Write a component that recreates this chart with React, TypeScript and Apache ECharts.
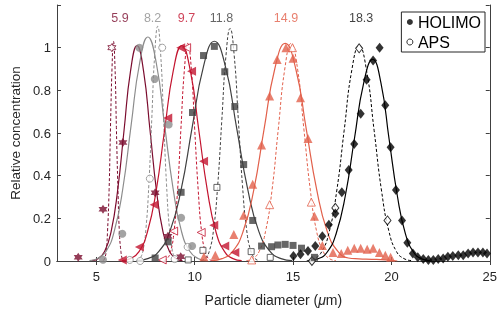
import React, { useEffect, useRef } from "react";
import * as echarts from "echarts";

// ---------- data ----------
const xTicks = [5, 10, 15, 20, 25];
const peakLabels = ["5.9", "8.2", "9.7", "11.8", "14.9", "18.3"];
const peakLabelX = [6.2, 7.86, 9.58, 11.36, 14.64, 18.46];
const peakLabelY = 1.14;

// fitted curves
const fitHolimoMx = [4.76, 5.09, 5.42, 5.75, 6.08, 6.41, 6.74, 7.07, 7.4, 7.73, 8.06, 8.39, 8.72, 9.05, 9.38];
const fitHolimoMy = [0.002, 0.011, 0.044, 0.137, 0.328, 0.613, 0.891, 1.01, 0.891, 0.613, 0.328, 0.137, 0.044, 0.011, 0.002];
const fitApsMx = [5.35, 5.42, 5.5, 5.57, 5.65, 5.72, 5.8, 5.87, 5.95, 6.02, 6.1, 6.17, 6.25, 6.32, 6.4];
const fitApsMy = [0.002, 0.011, 0.045, 0.139, 0.334, 0.625, 0.909, 1.03, 0.909, 0.625, 0.334, 0.139, 0.045, 0.011, 0.002];

const fitHolimoGx = [4.65, 5.07, 5.5, 5.92, 6.35, 6.77, 7.2, 7.62, 8.05, 8.47, 8.9, 9.32, 9.75, 10.17, 10.6];
const fitHolimoGy = [0.002, 0.012, 0.046, 0.142, 0.341, 0.637, 0.927, 1.05, 0.927, 0.637, 0.341, 0.142, 0.046, 0.012, 0.002];
const fitApsGx = [7.07, 7.22, 7.37, 7.52, 7.67, 7.82, 7.97, 8.12, 8.27, 8.42, 8.57, 8.72, 8.87, 9.02, 9.17];
const fitApsGy = [0.002, 0.012, 0.048, 0.149, 0.357, 0.667, 0.971, 1.1, 0.971, 0.667, 0.357, 0.149, 0.048, 0.012, 0.002];

const fitHolimoRx = [6.3, 6.73, 7.17, 7.6, 8.04, 8.47, 8.91, 9.34, 9.78, 10.21, 10.65, 11.08, 11.52, 11.95, 12.39];
const fitHolimoRy = [0.002, 0.011, 0.044, 0.137, 0.328, 0.613, 0.891, 1.01, 0.891, 0.613, 0.328, 0.137, 0.044, 0.011, 0.002];
const fitApsRx = [8.43, 8.6, 8.78, 8.95, 9.13, 9.3, 9.48, 9.65, 9.83, 10.0, 10.18, 10.35, 10.53, 10.7, 10.88];
const fitApsRy = [0.002, 0.011, 0.045, 0.138, 0.331, 0.619, 0.9, 1.02, 0.9, 0.619, 0.331, 0.138, 0.045, 0.011, 0.002];

const fitHolimoDx = [7.05, 7.61, 8.18, 8.74, 9.31, 9.87, 10.44, 11.0, 11.57, 12.13, 12.7, 13.26, 13.83, 14.39, 14.96];
const fitHolimoDy = [0.002, 0.011, 0.045, 0.139, 0.334, 0.625, 0.909, 1.03, 0.909, 0.625, 0.334, 0.139, 0.045, 0.011, 0.002];
const fitApsDx = [10.33, 10.54, 10.75, 10.96, 11.17, 11.38, 11.59, 11.8, 12.01, 12.22, 12.43, 12.64, 12.85, 13.06, 13.27];
const fitApsDy = [0.002, 0.012, 0.048, 0.147, 0.354, 0.661, 0.962, 1.09, 0.962, 0.661, 0.354, 0.147, 0.048, 0.012, 0.002];

const fitHolimoCx = [10.86, 11.39, 11.93, 12.46, 13.0, 13.53, 14.07, 14.6, 15.14, 15.67, 16.21, 16.74, 17.28, 17.81, 18.35, 19.0, 19.7, 20.3];
const fitHolimoCy = [0.002, 0.011, 0.045, 0.138, 0.331, 0.619, 0.9, 1.02, 0.9, 0.619, 0.331, 0.138, 0.045, 0.014, 0.01, 0.008, 0.005, 0.0];
const fitApsCx = [12.63, 12.95, 13.28, 13.6, 13.93, 14.25, 14.58, 14.9, 15.23, 15.55, 15.88, 16.2, 16.53, 16.85, 17.18];
const fitApsCy = [0.002, 0.011, 0.045, 0.138, 0.331, 0.619, 0.9, 1.02, 0.9, 0.619, 0.331, 0.138, 0.045, 0.011, 0.002];

const fitHolimoKx = [15.8, 16.26, 16.73, 17.19, 17.66, 18.12, 18.59, 19.05, 19.47, 19.88, 20.3, 20.71, 21.13, 21.54, 21.96];
const fitHolimoKy = [0.002, 0.01, 0.041, 0.128, 0.307, 0.573, 0.834, 0.945, 0.834, 0.573, 0.307, 0.128, 0.041, 0.01, 0.002];
const fitApsKx = [15.7, 16.08, 16.46, 16.84, 17.22, 17.6, 17.98, 18.36, 18.74, 19.12, 19.5, 19.88, 20.26, 20.64, 21.02];
const fitApsKy = [0.002, 0.011, 0.044, 0.137, 0.328, 0.613, 0.891, 1.01, 0.891, 0.613, 0.328, 0.137, 0.044, 0.011, 0.002];

// measured points
const holimoM = [[4.08, 0.017], [5.34, 0.243], [6.35, 0.555], [7.99, 0.32], [8.64, 0.116], [9.29, 0.02]];
const apsM = [[5.79, 1.0]];

const holimoG = [[5.34, 0.006], [6.32, 0.128], [7.19, 1.0], [7.97, 0.853], [8.68, 0.64], [9.31, 0.203], [9.87, 0.07]];
const apsG = [[6.7, 0.005], [7.23, 0.0], [7.72, 0.386], [8.35, 1.0], [8.98, 0.009], [9.64, 0.066]];

const holimoR = [[6.32, 0.005], [7.19, 0.066], [7.94, 0.264], [8.63, 0.67], [9.29, 1.0], [9.84, 0.89], [10.45, 0.467], [10.97, 0.168], [11.53, 0.07], [12.04, 0.04]];
const apsR = [[8.35, 0.005], [8.93, 0.14], [9.59, 1.0], [10.33, 0.134]];

const holimoD = [[7.99, 0.014], [8.65, 0.09], [9.31, 0.322], [9.89, 0.696], [10.45, 0.963], [11.0, 1.006], [11.53, 0.887], [12.04, 0.724], [12.49, 0.452], [12.95, 0.19], [13.4, 0.07], [13.91, 0.067], [14.23, 0.075], [14.6, 0.078], [15.0, 0.073], [15.43, 0.06], [16.09, 0.017]];
const apsD = [[9.67, 0.005], [10.42, 0.05], [11.13, 0.345], [11.99, 1.0], [12.87, 0.044], [13.84, 0.017]];

const holimoC = [[10.47, 0.02], [11.05, 0.027], [11.99, 0.124], [12.49, 0.215], [12.95, 0.36], [13.4, 0.544], [13.81, 0.773], [14.19, 0.945], [14.64, 1.0], [15.0, 0.95], [15.38, 0.765], [15.76, 0.574], [16.09, 0.21], [16.49, 0.073], [17.03, 0.04], [17.45, 0.035], [17.78, 0.05], [18.11, 0.06], [18.44, 0.06], [18.77, 0.055], [19.07, 0.06], [19.39, 0.04], [19.69, 0.027], [19.96, 0.017]];
const apsC = [[12.9, 0.005], [13.81, 0.264], [14.97, 1.0], [15.93, 0.276]];

const holimoK = [[15.02, 0.024], [15.38, 0.032], [15.76, 0.047], [16.13, 0.07], [16.49, 0.116], [16.82, 0.17], [17.15, 0.223], [17.48, 0.322], [17.83, 0.426], [18.11, 0.548], [18.44, 0.69], [18.74, 0.85], [19.07, 0.94], [19.4, 1.0], [19.69, 0.73], [19.96, 0.533], [20.23, 0.333], [20.54, 0.19], [20.81, 0.086], [21.09, 0.035], [21.34, 0.017], [21.62, 0.009], [21.88, 0.005], [22.13, 0.005], [22.38, 0.009], [22.63, 0.012], [22.87, 0.02], [23.12, 0.024], [23.4, 0.027], [23.65, 0.027], [23.9, 0.035], [24.15, 0.04], [24.4, 0.04], [24.65, 0.04], [24.86, 0.035]];
const apsK = [[15.96, 0.0], [17.15, 0.249], [18.36, 0.997], [19.8, 0.19]];

// ---------- style ----------
const C_M = "#7b0c2e";
const C_G = "#8c8c8c";
const C_R = "#c3142f";
const C_D = "#404040";
const C_C = "#e2604b";
const C_K = "#000000";
const labelColors = [C_M, C_G, C_R, C_D, C_C, "#111111"];
const FONT = "'Liberation Sans', Arial, Helvetica, sans-serif";
const STAR = "path://M0,-10L2.887,-5L8.66,-5L5.774,0L8.66,5L2.887,5L0,10L-2.887,5L-8.66,5L-5.774,0L-8.66,-5L-2.887,-5Z";

const zip = (xs: number[], ys: number[]) => xs.map((x, i) => [x, ys[i]]);

function fitSeries(xs: number[], ys: number[], color: string, dashed: boolean) {
  return {
    type: "line",
    data: zip(xs, ys),
    smooth: 0.5,
    showSymbol: false,
    symbol: "none",
    silent: true,
    z: 2,
    lineStyle: { color, width: dashed ? 1 : 1.2, type: dashed ? [3, 2] : "solid" },
  };
}

function pointSeries(data: number[][], color: string, symbol: string, size: any, open: boolean, rotate = 0) {
  return {
    type: "scatter",
    data,
    symbol,
    symbolSize: size,
    symbolRotate: rotate,
    silent: true,
    z: open ? 4 : 5,
    itemStyle: open
      ? { color: "#ffffff", borderColor: color, borderWidth: 1 }
      : { color, borderWidth: 0 },
  };
}

export default function App() {
  const ref = useRef<HTMLDivElement>(null);
  useEffect(() => {
    if (!ref.current) return;
    const chart = echarts.init(ref.current, null, { renderer: "svg" });
    const axisLineStyle = { color: "#404040", width: 1 };
    const series: any[] = [
      fitSeries(fitHolimoMx, fitHolimoMy, C_M, false),
      fitSeries(fitApsMx, fitApsMy, C_M, true),
      fitSeries(fitHolimoGx, fitHolimoGy, C_G, false),
      fitSeries(fitApsGx, fitApsGy, C_G, true),
      fitSeries(fitHolimoRx, fitHolimoRy, C_R, false),
      fitSeries(fitApsRx, fitApsRy, C_R, true),
      fitSeries(fitHolimoDx, fitHolimoDy, C_D, false),
      fitSeries(fitApsDx, fitApsDy, C_D, true),
      fitSeries(fitHolimoCx, fitHolimoCy, C_C, false),
      fitSeries(fitApsCx, fitApsCy, C_C, true),
      fitSeries(fitHolimoKx, fitHolimoKy, C_K, false),
      fitSeries(fitApsKx, fitApsKy, C_K, true),

      pointSeries(apsM, C_M, STAR, 8, true),
      pointSeries(holimoM, C_M, STAR, 9, false),
      pointSeries(apsG, C_G, "circle", 7, true),
      pointSeries(holimoG, C_G, "circle", 8, false),
      pointSeries(apsR, C_R, "triangle", 8, true, 90),
      pointSeries(holimoR, C_R, "triangle", 9, false, 90),
      pointSeries(apsD, C_D, "rect", 6, true),
      pointSeries(holimoD, C_D, "rect", 7, false),
      pointSeries(apsC, C_C, "triangle", 8, true),
      pointSeries(holimoC, C_C, "triangle", 9, false),
      pointSeries(apsK, C_K, "diamond", [7, 9], true),
      pointSeries(holimoK, C_K, "diamond", [8, 10], false),

      {
        type: "scatter",
        symbolSize: 0,
        silent: true,
        data: peakLabels.map((t, i) => ({
          value: [peakLabelX[i], peakLabelY],
          name: t,
          label: { color: labelColors[i] },
        })),
        label: {
          show: true,
          position: "inside",
          formatter: (p: any) => p.name,
          fontSize: 12.5,
          fontFamily: FONT,
        },
      },
      { name: "HOLIMO", type: "scatter", data: [], itemStyle: { color: "#000" } },
      { name: "APS", type: "scatter", data: [], itemStyle: { color: "#fff", borderColor: "#000", borderWidth: 1 } },
    ];

    chart.setOption({
      animation: false,
      grid: { left: 45, right: 10, top: 5, bottom: 45, containLabel: false },
      legend: {
        orient: "vertical",
        right: 15,
        top: 12,
        padding: [2, 4, 2, 5],
        itemGap: 4,
        itemWidth: 6,
        itemHeight: 6,
        borderColor: "#262626",
        borderWidth: 1,
        backgroundColor: "#fff",
        selectedMode: false,
        textStyle: { fontSize: 16, color: "#000", fontFamily: FONT },
        data: [
          { name: "HOLIMO", icon: "circle", itemStyle: { color: "#000", borderWidth: 0 } },
          { name: "APS", icon: "circle", itemStyle: { color: "#fff", borderColor: "#000", borderWidth: 1 } },
        ],
      },
      xAxis: [
        {
          type: "value",
          min: 3,
          max: 25,
          axisLine: { show: true, lineStyle: axisLineStyle },
          axisTick: { show: true, inside: true, length: 4, lineStyle: axisLineStyle, customValues: xTicks },
          axisLabel: { customValues: xTicks, color: "#262626", fontSize: 13, fontFamily: FONT, margin: 9 },
          splitLine: { show: false },
          name: "Particle diameter ({i|μ}m)",
          nameLocation: "middle",
          nameGap: 32,
          nameTextStyle: {
            fontSize: 14,
            color: "#262626",
            fontFamily: FONT,
            rich: { i: { fontSize: 14, fontStyle: "italic", color: "#262626", fontFamily: FONT } },
          },
        },
        {
          type: "value",
          position: "top",
          min: 3,
          max: 25,
          axisLine: { show: true, lineStyle: axisLineStyle },
          axisTick: { show: true, inside: true, length: 4, lineStyle: axisLineStyle, customValues: xTicks },
          axisLabel: { show: false },
          splitLine: { show: false },
        },
      ],
      yAxis: [
        {
          type: "value",
          min: 0,
          max: 1.2,
          interval: 0.2,
          axisLine: { show: true, lineStyle: axisLineStyle },
          axisTick: { show: true, inside: true, length: 4, lineStyle: axisLineStyle },
          axisLabel: {
            color: "#262626",
            fontSize: 13,
            fontFamily: FONT,
            margin: 6,
            formatter: (v: number) => (v > 1.1 ? "" : String(Number(v.toFixed(1)))),
          },
          splitLine: { show: false },
          name: "Relative concentration",
          nameLocation: "middle",
          nameGap: 34,
          nameTextStyle: { fontSize: 13.5, color: "#262626", fontFamily: FONT },
        },
        {
          type: "value",
          position: "right",
          min: 0,
          max: 1.2,
          interval: 0.2,
          axisLine: { show: true, lineStyle: axisLineStyle },
          axisTick: { show: true, inside: true, length: 4, lineStyle: axisLineStyle },
          axisLabel: { show: false },
          splitLine: { show: false },
        },
      ],
      series,
    });
    return () => chart.dispose();
  }, []);
  return <div ref={ref} style={{ position: "fixed", left: 0, top: 0, width: 500, height: 312 }} />;
}
